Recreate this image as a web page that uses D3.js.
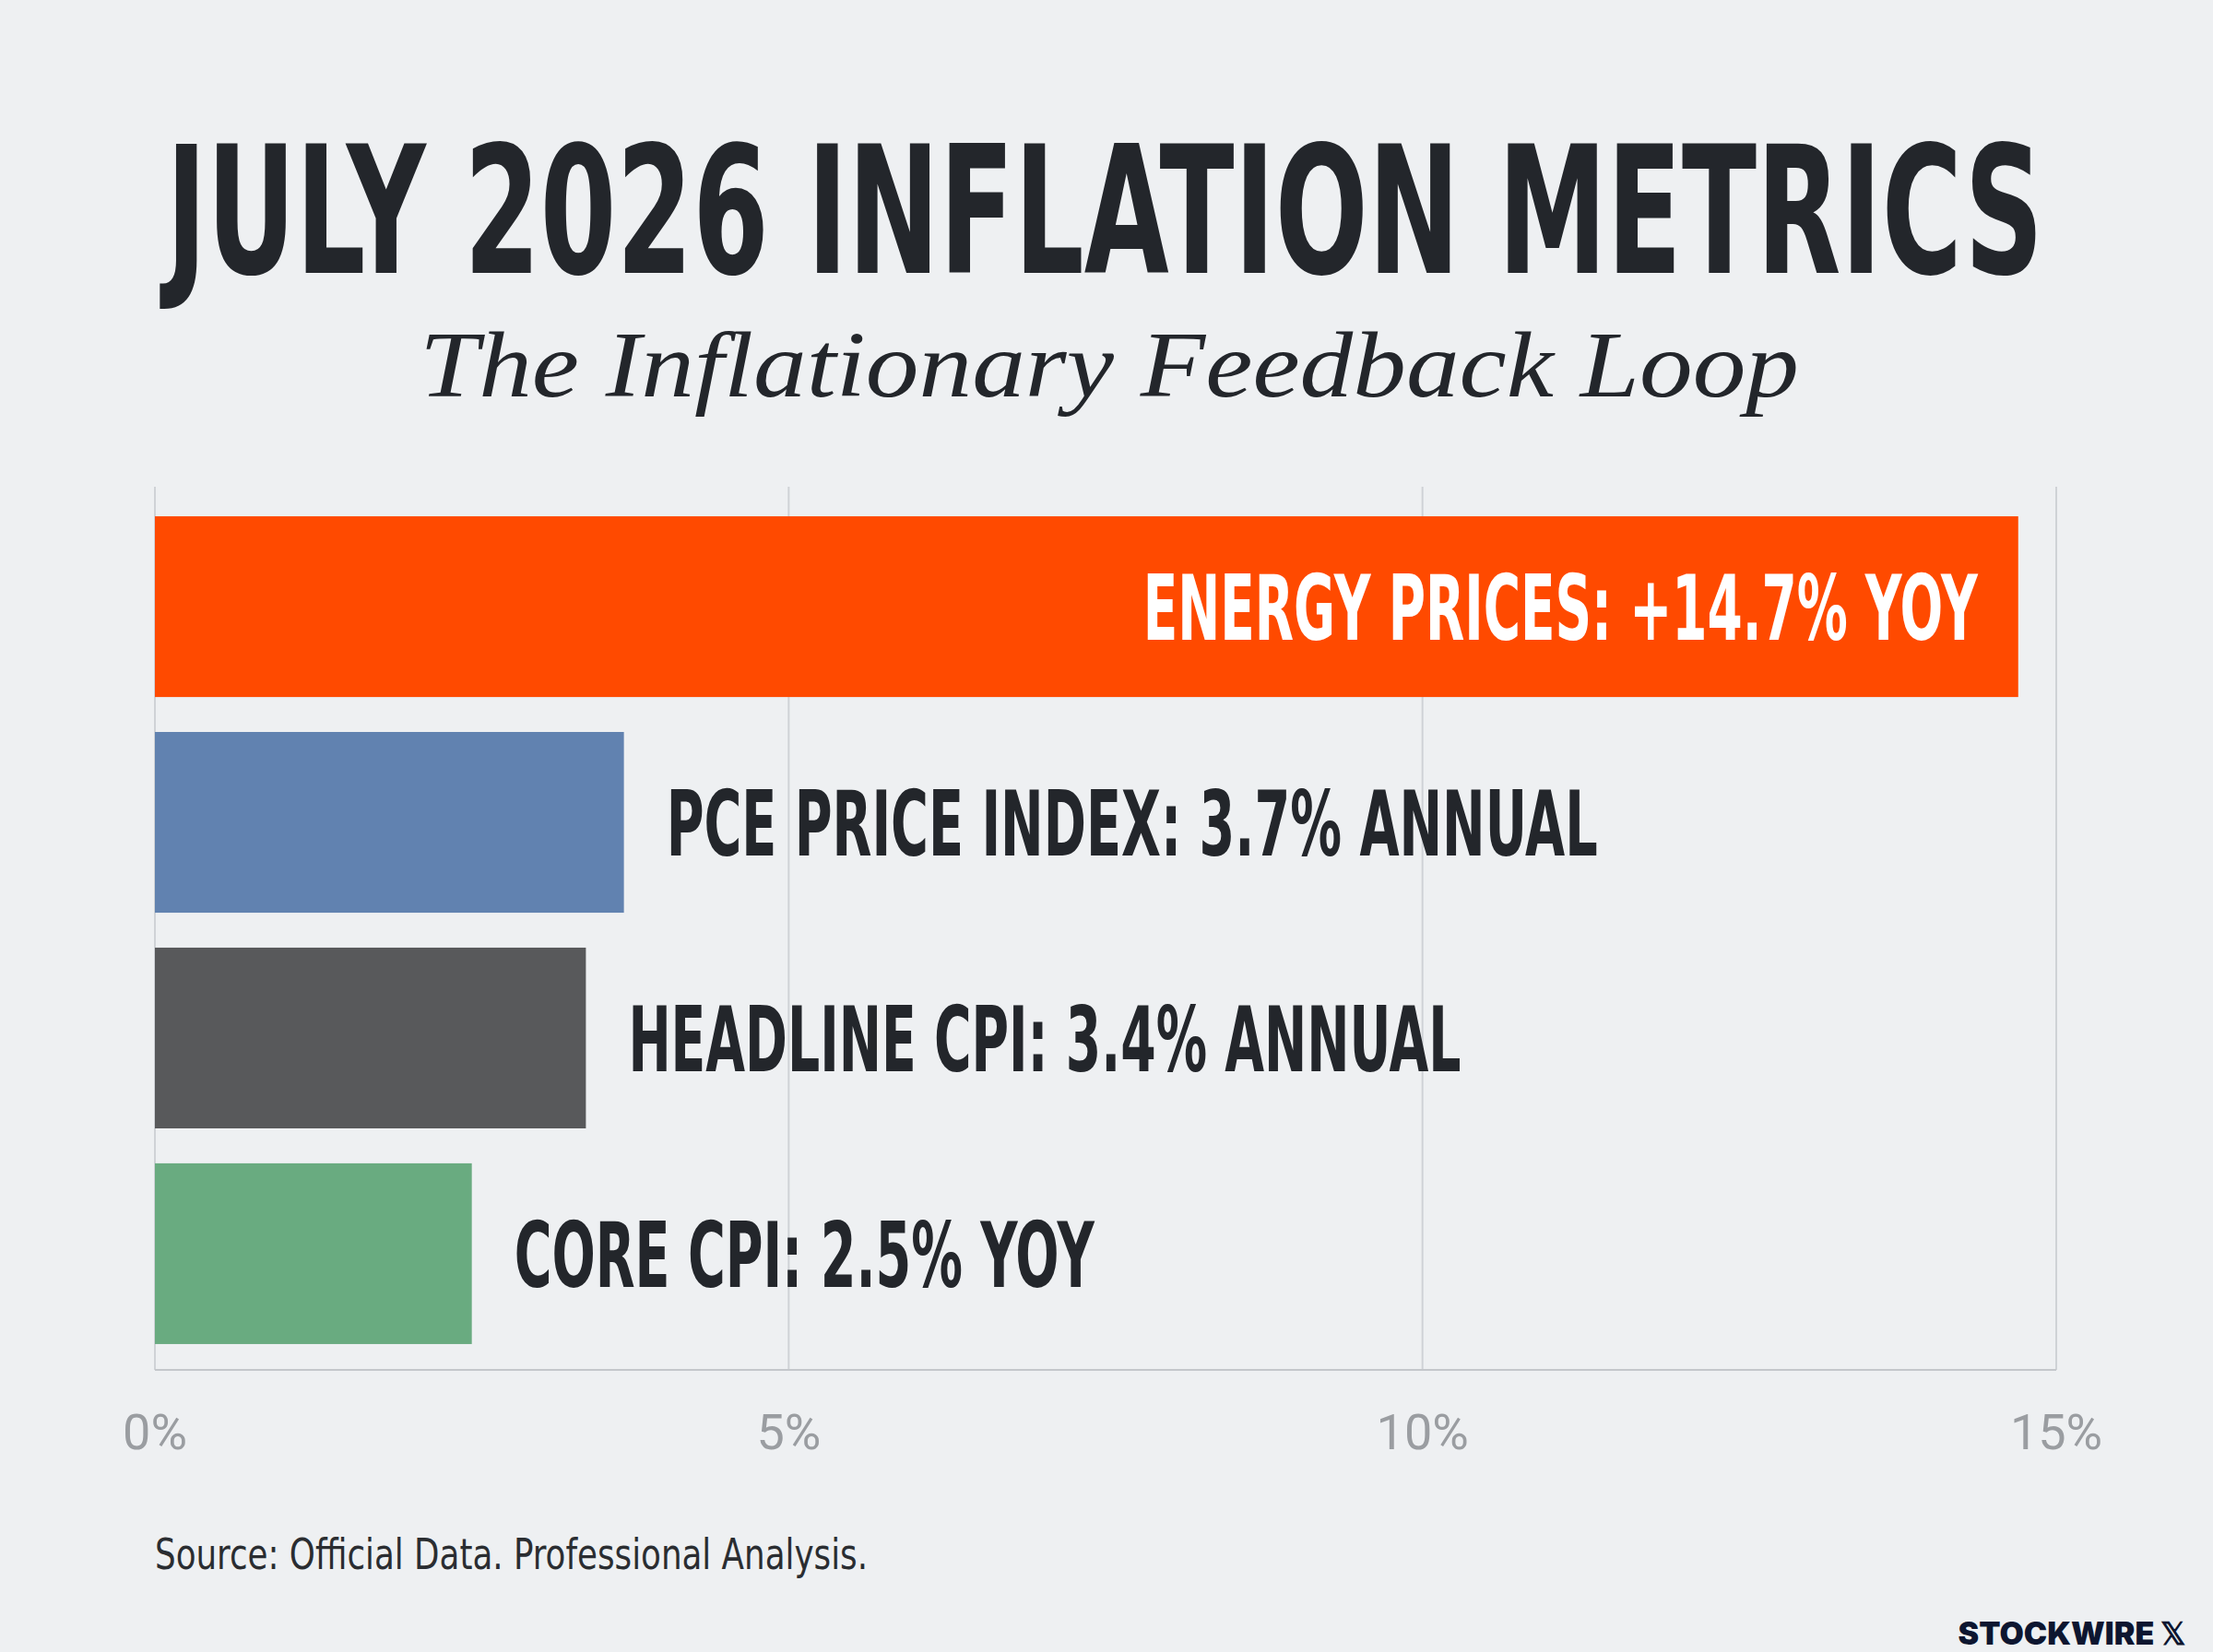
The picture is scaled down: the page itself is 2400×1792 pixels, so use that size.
<!DOCTYPE html>
<html>
<head>
<meta charset="utf-8">
<script src="https://cdn.jsdelivr.net/npm/d3@7"></script>
<style>
  html, body { margin: 0; padding: 0; background: #eef0f2; }
</style>
</head>
<body>
<div id="chart"></div>
<script>
const categories = ["ENERGY PRICES", "PCE PRICE INDEX", "HEADLINE CPI", "CORE CPI"];
const values = [14.7, 3.7, 3.4, 2.5];
const labels = ["ENERGY PRICES: +14.7% YOY", "PCE PRICE INDEX: 3.7% ANNUAL", "HEADLINE CPI: 3.4% ANNUAL", "CORE CPI: 2.5% YOY"];
const labelWidths = [905, 1010, 903, 629];
const colors = ["#ff4a00", "#6182b0", "#58595b", "#69ab80"];
const ticks = [0, 5, 10, 15];

const width = 2400, height = 1792;
const condensed = "'Liberation Sans Narrow', 'DejaVu Sans Condensed', 'Roboto', sans-serif";

const svg = d3.select("#chart").append("svg")
  .attr("width", width).attr("height", height);

svg.append("rect").attr("width", width).attr("height", height).attr("fill", "#eef0f2");

// title
svg.append("text")
  .attr("x", 1198).attr("y", 296)
  .attr("text-anchor", "middle")
  .attr("font-family", condensed)
  .attr("font-weight", "bold")
  .attr("font-size", 192)
  .attr("textLength", 2036).attr("lengthAdjust", "spacingAndGlyphs")
  .attr("fill", "#23262b")
  .text("JULY 2026 INFLATION METRICS");

svg.append("text")
  .attr("x", 1203).attr("y", 430)
  .attr("text-anchor", "middle")
  .attr("font-family", "'Liberation Serif', 'DejaVu Serif', serif")
  .attr("font-style", "italic")
  .attr("font-size", 102)
  .attr("textLength", 1496).attr("lengthAdjust", "spacingAndGlyphs")
  .attr("fill", "#23262b")
  .text("The Inflationary Feedback Loop");

const x = d3.scaleLinear().domain([0, 15]).range([168, 2230]);
const y = d3.scaleBand().domain(categories).range([528, 1490]).paddingInner(0.162).paddingOuter(0.137);

// grid
svg.append("g").selectAll("line").data(ticks).join("line")
  .attr("x1", d => x(d)).attr("x2", d => x(d))
  .attr("y1", 528).attr("y2", 1486)
  .attr("stroke", "#cfd2d6").attr("stroke-width", 2);
svg.append("line")
  .attr("x1", x(0)).attr("x2", x(15)).attr("y1", 1486).attr("y2", 1486)
  .attr("stroke", "#c4c7cb").attr("stroke-width", 2);

// bars
svg.append("g").selectAll("rect").data(categories).join("rect")
  .attr("x", x(0)).attr("y", d => y(d))
  .attr("width", (d, i) => x(values[i]) - x(0))
  .attr("height", y.bandwidth())
  .attr("fill", (d, i) => colors[i]);

// labels
svg.append("g").selectAll("text").data(categories).join("text")
  .attr("x", (d, i) => i === 0 ? x(values[i]) - 44 : x(values[i]) + 46)
  .attr("y", d => y(d) + y.bandwidth() / 2 + 36)
  .attr("text-anchor", (d, i) => i === 0 ? "end" : "start")
  .attr("font-family", condensed)
  .attr("font-weight", "bold")
  .attr("font-size", 98)
  .attr("textLength", (d, i) => labelWidths[i]).attr("lengthAdjust", "spacingAndGlyphs")
  .attr("fill", (d, i) => i === 0 ? "#ffffff" : "#23262b")
  .text((d, i) => labels[i]);

// axis ticks
svg.append("g").selectAll("text").data(ticks).join("text")
  .attr("x", d => x(d)).attr("y", 1572)
  .attr("text-anchor", "middle")
  .attr("font-family", "'Roboto', 'Liberation Sans', sans-serif")
  .attr("font-size", 54)
  .attr("fill", "#9a9da1")
  .text(d => d + "%");

svg.append("text")
  .attr("x", 168).attr("y", 1702)
  .attr("font-family", condensed)
  .attr("font-size", 46)
  .attr("textLength", 773).attr("lengthAdjust", "spacingAndGlyphs")
  .attr("fill", "#2a2d31")
  .text("Source: Official Data. Professional Analysis.");

svg.append("text")
  .attr("x", 2370).attr("y", 1784)
  .attr("text-anchor", "end")
  .attr("font-family", "'Inter', 'Roboto', sans-serif")
  .attr("font-weight", 900)
  .attr("font-size", 34)
  .attr("fill", "#0d1630")
  .text("STOCKWIRE 𝕏");
</script>
</body>
</html>
